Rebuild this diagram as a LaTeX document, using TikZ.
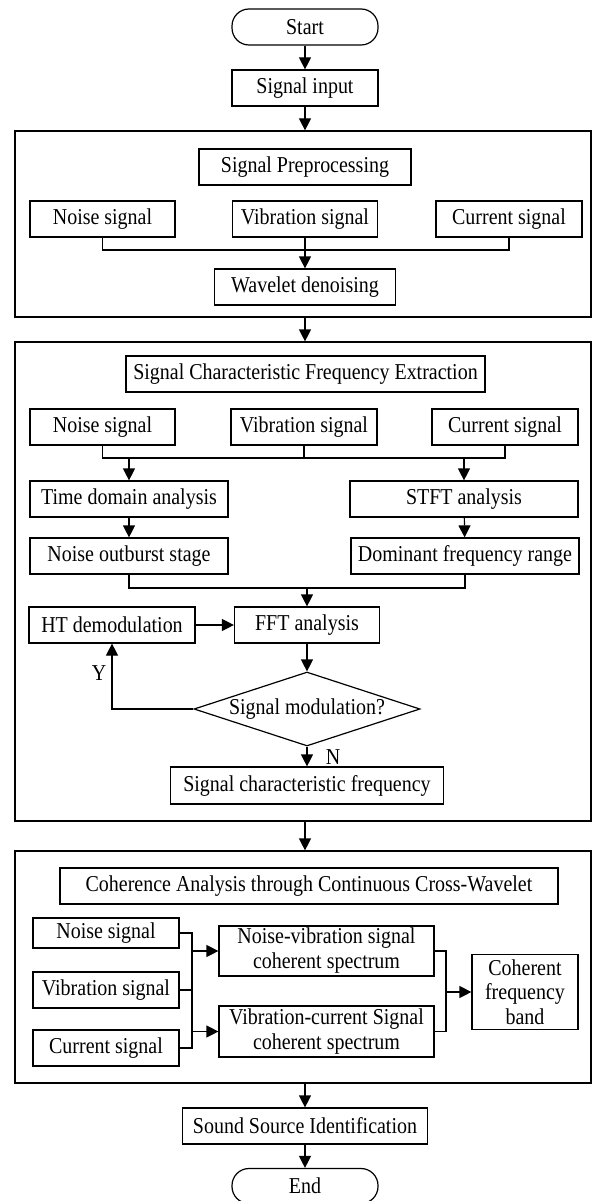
\documentclass[tikz,border=0pt]{standalone}
\usepackage{fontspec}
\setmainfont{Liberation Serif}[FakeStretch=0.88]
\usetikzlibrary{arrows.meta,shapes.geometric,calc}
\tikzset{
  box/.style={draw, line width=1.2pt, rectangle, inner sep=0pt, minimum height=36pt,
    font=\fontsize{22.7}{25}\selectfont, align=center},
  frame/.style={draw, line width=1.2pt, rectangle, inner sep=0pt},
  term/.style={box, rounded corners=17pt},
  link/.style={line width=1.2pt},
  arr/.style={line width=1.2pt, -{Triangle[length=12pt,width=12pt]}},
  lbl/.style={font=\fontsize{22.7}{25}\selectfont, inner sep=0pt},
  decision/.style={draw, line width=1.2pt, diamond, aspect=3.05, inner sep=0pt,
    minimum width=226pt, minimum height=74pt, font=\fontsize{22.7}{25}\selectfont}
}
\begin{document}
\begin{tikzpicture}[x=1pt, y=-1pt]
\useasboundingbox (0,0) rectangle (593,1201);
% frames
\node[frame, minimum width=576pt, minimum height=186pt] (f1) at (303,224) {};
\node[frame, minimum width=576pt, minimum height=479pt] (f2) at (303,581.5) {};
\node[frame, minimum width=576pt, minimum height=232pt] (f3) at (303,967) {};
% top
\node[term, minimum width=146pt] (start) at (305,27) {Start};
\node[box, minimum width=146pt] (input) at (305,88) {Signal input};
% section 1
\node[box, minimum width=212pt] (pre) at (305,167) {Signal Preprocessing};
\node[box, minimum width=145pt] (n1) at (102.5,219) {Noise signal};
\node[box, minimum width=145pt] (v1) at (305,219) {Vibration signal};
\node[box, minimum width=146pt] (c1) at (509,219) {Current signal};
\node[box, minimum width=181pt] (wav) at (305,287) {Wavelet denoising};
% section 2
\node[box, minimum width=359pt] (scfe) at (305.5,374) {Signal Characteristic Frequency Extraction};
\node[box, minimum width=145pt] (n2) at (102.5,427) {Noise signal};
\node[box, minimum width=146pt] (v2) at (304,427) {Vibration signal};
\node[box, minimum width=146pt] (c2) at (505,427) {Current signal};
\node[box, minimum width=198pt] (tda) at (129,499) {Time domain analysis};
\node[box, minimum width=228pt] (stft) at (464,499) {STFT analysis};
\node[box, minimum width=198pt] (nos) at (129,556) {Noise outburst stage};
\node[box, minimum width=228pt] (dfr) at (465,556) {Dominant frequency range};
\node[box, minimum width=166pt] (ht) at (112,625) {HT demodulation};
\node[box, minimum width=145pt] (fft) at (307,625) {FFT analysis};
\node[decision] (dia) at (307,709) {Signal modulation?};
\node[box, minimum width=273pt, minimum height=37pt] (scf) at (307,785.5) {Signal characteristic frequency};
\node[lbl] (ylab) at (99,673) {Y};
\node[lbl] (nlab) at (333,757) {N};
% section 3
\node[box, minimum width=498pt] (ca) at (309,886) {Coherence Analysis through Continuous Cross-Wavelet};
\node[box, minimum width=146pt, minimum height=30pt] (n3) at (106,933) {Noise signal};
\node[box, minimum width=146pt] (v3) at (106,990) {Vibration signal};
\node[box, minimum width=146pt] (c3) at (106,1048) {Current signal};
\node[box, minimum width=215pt, minimum height=50pt] (nv) at (326.5,951) {Noise-vibration signal\\coherent spectrum};
\node[box, minimum width=215pt, minimum height=51pt] (vc) at (326.5,1031.5) {Vibration-current Signal\\coherent spectrum};
\node[box, minimum width=106pt, minimum height=75pt, font=\fontsize{22.7}{24.5}\selectfont] (cfb) at (525,992) {Coherent\\frequency\\band};
% bottom
\node[box, minimum width=245pt] (ssi) at (305,1126) {Sound Source Identification};
\node[term, minimum width=146pt, minimum height=35pt] (end) at (305,1186) {End};
% connectors top
\draw[arr] (start) -- (input);
\draw[arr] (input) -- (input |- f1.north);
\coordinate (b1) at (305,250);
\draw[link] (n1.south) |- (b1) -| (c1.south);
\draw[arr] (v1.south) -- (wav.north);
\draw[arr] (f1.south -| input) -- (f2.north -| input);
% connectors section 2
\coordinate (b2) at (304,458);
\draw[link] (n2.south) |- (b2) -| (c2.south);
\draw[link] (v2.south) -- (b2);
\draw[arr] (b2 -| tda.north) -- (tda.north);
\draw[arr] (b2 -| stft.north) -- (stft.north);
\draw[arr] (tda) -- (nos);
\draw[arr] (stft) -- (dfr);
\coordinate (b3) at (307,588);
\draw[link] (nos.south) |- (b3) -| (dfr.south);
\draw[arr] (b3) -- (fft.north);
\draw[arr] (ht) -- (fft);
\draw[arr] (fft) -- (dia);
\draw[arr] (dia.west) -| (ht.south);
\draw[arr] (dia) -- (scf);
\draw[arr] (f2.south -| input) -- (f3.north -| input);
% connectors section 3
\coordinate (jl) at (192,990);
\draw[link] (n3.east) -| (jl);
\draw[link] (c3.east) -| (jl);
\draw[link] (v3.east) -- (jl);
\draw[arr] (jl |- nv.west) -- (nv.west);
\draw[arr] (jl |- vc.west) -- (vc.west);
\coordinate (jr) at (446,992);
\draw[link] (nv.east) -| (jr);
\draw[link] (vc.east) -| (jr);
\draw[arr] (jr) -- (cfb.west);
\draw[arr] (f3.south -| input) -- (ssi.north);
\draw[arr] (ssi) -- (end);
\end{tikzpicture}
\end{document}
